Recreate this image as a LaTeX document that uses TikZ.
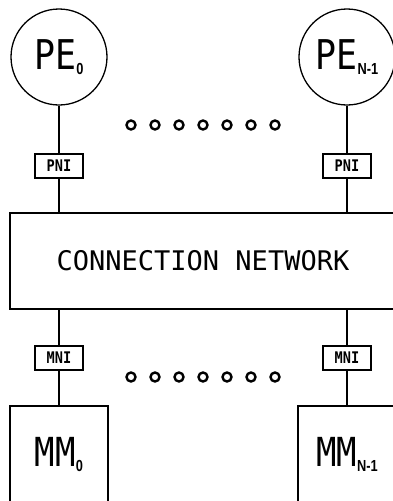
\documentclass[tikz,border=0pt]{standalone}
\usepackage{fontspec}
\setmonofont{DejaVu Sans Mono}
\newfontfamily\plotfont[FakeStretch=0.85]{DejaVu Sans Mono}
\newfontfamily\subfont[FakeStretch=0.8]{Liberation Sans}
\usetikzlibrary{positioning}
\newcommand{\lowsub}[1]{\raisebox{-5pt}{\fontsize{16}{16}\subfont\bfseries #1}}

\begin{document}
\begin{tikzpicture}[
    x=1pt, y=-1pt,
    pe/.style={circle, draw, line width=1.3pt, minimum size=96pt,
               inner sep=0pt, font=\fontsize{41}{41}\plotfont},
    iface/.style={rectangle, draw, line width=1.3pt, minimum width=48pt,
               minimum height=24pt, inner sep=0pt,
               font=\fontsize{16}{16}\plotfont\bfseries},
    mem/.style={rectangle, draw, line width=1.3pt, minimum width=98pt,
               minimum height=97pt, inner sep=0pt,
               font=\fontsize{40}{40}\plotfont},
    netbox/.style={rectangle, draw, line width=1.3pt, minimum width=386pt,
               minimum height=96pt, inner sep=0pt,
               font=\fontsize{27}{27}\ttfamily},
    dot/.style={circle, draw, line width=2.4pt, minimum size=9pt, inner sep=0pt},
    link/.style={line width=1.3pt}
]
\useasboundingbox (0,0) rectangle (392,501);
\node[netbox] (net) at (203,261) {CONNECTION NETWORK};
% processori e moduli di memoria
\foreach \c/\x/\s in {0/59/0, N/347/{N-1}}{
    \node[pe] (PE\c) at (\x,57) {PE\lowsub{\s}};
    \node[iface] (PNI\c) at (\x,166) {PNI};
    \node[iface] (MNI\c) at (\x,358) {MNI};
    \node[mem] (MM\c) at (\x,454.5) {MM\lowsub{\s}};
}
% collegamenti verso la rete
\foreach \c in {0,N}{
    \draw[link] (PE\c) -- (PNI\c);
    \draw[link] (PNI\c) -- (PNI\c |- net.north);
    \draw[link] (MNI\c |- net.south) -- (MNI\c);
    \draw[link] (MNI\c) -- (MM\c);
}
% puntini
\foreach \i in {0,...,6}{
    \node[dot] (topdot\i) at ({131+24*\i},125) {};
    \node[dot] (botdot\i) at ({131+24*\i},377) {};
}
\end{tikzpicture}
\end{document}
